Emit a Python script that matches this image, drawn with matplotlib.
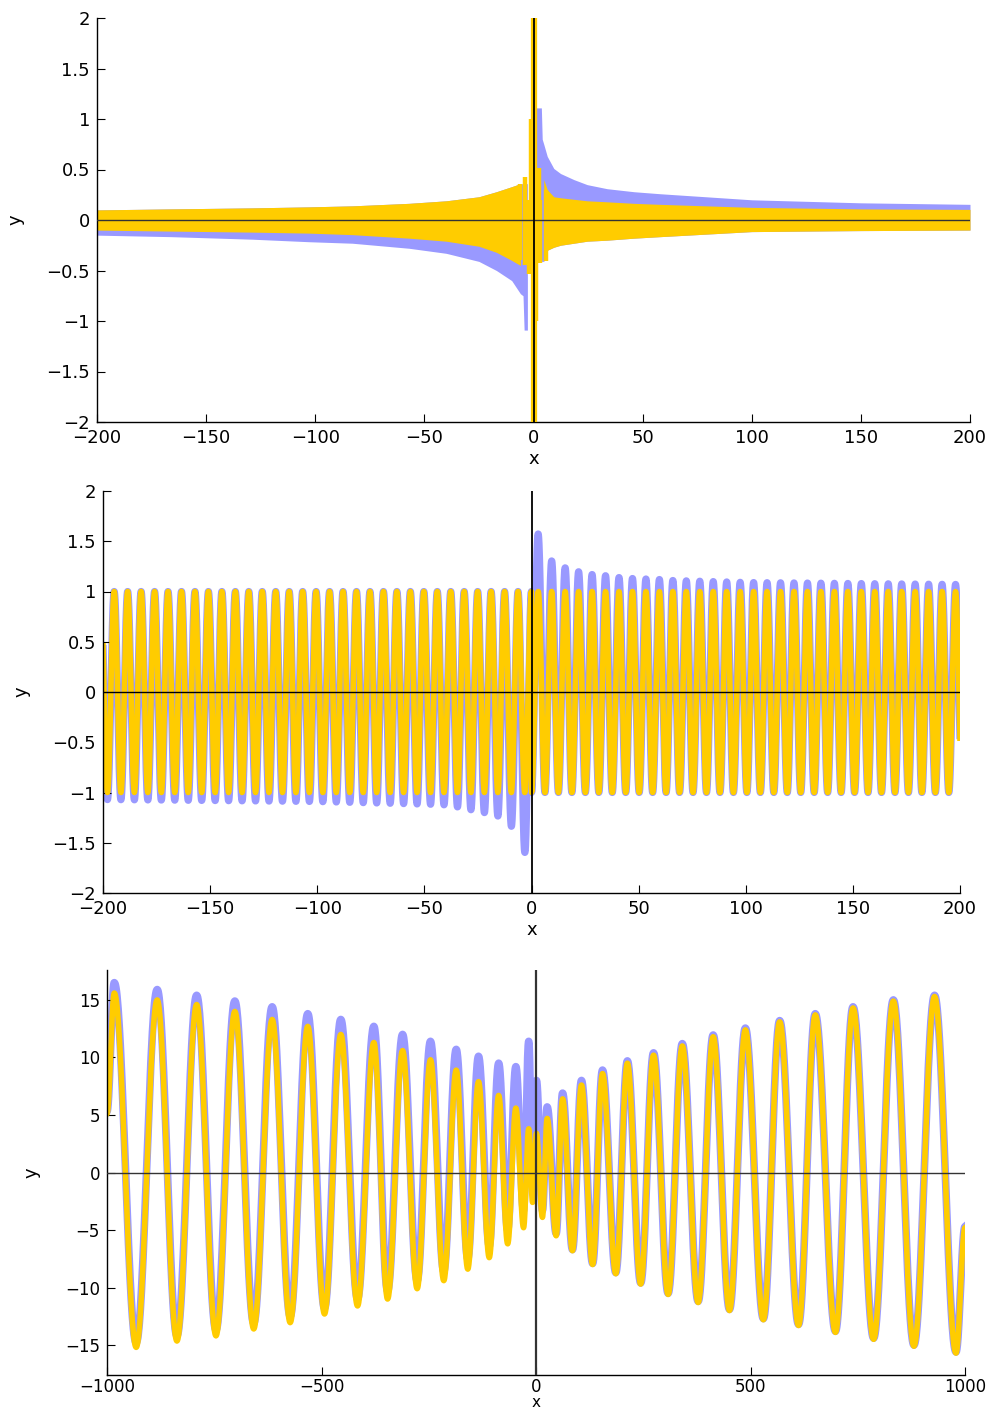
import numpy as np
import matplotlib
matplotlib.use("Agg")
import matplotlib.pyplot as plt

BLUE = "#9999ff"
YELLOW = "#ffcc00"
plt.rcParams["font.family"] = ["DejaVu Sans"]

# ---------------- Panel 1 : envelopes ----------------
p1_left_x = [-200, -166, -129, -103, -83, -57, -40, -25, -17, -10, -6]
p1_left_yel_up = [0.10, 0.11, 0.12, 0.13, 0.14, 0.165, 0.19, 0.23, 0.28, 0.33, 0.36]
p1_left_yel_lo = [-0.10, -0.11, -0.12, -0.13, -0.145, -0.18, -0.21, -0.26, -0.32, -0.40, -0.45]
p1_left_blue_x = [-200, -166, -129, -103, -83, -57, -40, -25, -17, -10, -6, -4.8, -4.3, -2.8]
p1_left_blue_lo = [-0.15, -0.165, -0.19, -0.215, -0.23, -0.28, -0.33, -0.41, -0.50, -0.60, -0.73, -0.75, -1.09, -1.09]

p1_right_x = [4.7, 6.3, 9.3, 12.4, 18.5, 24.6, 33.7, 46, 58, 100, 150, 200]
p1_right_yel_up = [0.40, 0.30, 0.23, 0.22, 0.205, 0.19, 0.18, 0.165, 0.155, 0.125, 0.11, 0.105]
p1_right_yel_lo = [-0.41, -0.30, -0.27, -0.25, -0.23, -0.21, -0.20, -0.18, -0.165, -0.115, -0.105, -0.10]
p1_right_blue_x = [0.8, 3.6, 4.0, 4.7, 6.3, 9.3, 12.4, 18.5, 24.6, 33.7, 46, 58, 100, 150, 200]
p1_right_blue_up = [1.11, 1.11, 0.80, 0.75, 0.63, 0.51, 0.46, 0.40, 0.35, 0.31, 0.28, 0.26, 0.20, 0.17, 0.155]

# spikes near the origin
p1_yspike_x = [-8.5, -6.0, -4.0, -2.2, -1.2, 1.0, 2.4, 3.2, 5.5]
p1_yspike_top = [0.33, 0.36, 0.43, 0.20, 1.00, 0.30, 0.51, 0.20, 0.30]
p1_yspike_bot = [-0.35, -0.40, -0.45, -0.53, -0.30, -1.00, -0.30, -0.43, -0.41]

# ---------------- Panel 2 ----------------
p2_xlim = (-200, 200)
p2_period = 2 * np.pi
p2_yel_amp = 1.0
p2_blue_pk_x = [0.0, 2.3, 8.9, 15, 21.3, 27.5, 33.7, 40, 46.5, 52.7, 59.4, 65.6, 100, 150, 200]
p2_blue_pk_y = [1.61, 1.61, 1.31, 1.24, 1.20, 1.17, 1.16, 1.14, 1.13, 1.125, 1.12, 1.11, 1.09, 1.08, 1.07]
p2_blue_tr_x = [-200, -150, -100, -41.7, -35.3, -28.6, -22, -16, -9.8, -2.8, 0.0]
p2_blue_tr_y = [-1.07, -1.08, -1.09, -1.12, -1.14, -1.17, -1.20, -1.23, -1.32, -1.61, -1.61]

# ---------------- Panel 3 : extremes ----------------
p3_x = [-1000, -983, -932, -883, -837, -791, -746, -702, -658, -615, -573, -532,
        -493, -455, -416, -378, -346, -311, -277, -246, -215, -186, -159, -134,
        -109, -87, -66, -47, -29, -17, -8, 1, 15, 26, 47, 62, 85, 106, 132, 155,
        186, 213, 244, 274, 308, 341, 378, 413, 451, 488, 530, 568, 612, 651, 698,
        739, 787, 833, 881, 929, 979, 1000]
p3_yellow = [5.1, 15.6, -15.2, 15.0, -14.65, 14.6, -14.2, 14.0, -13.6, 13.3, -13.05, 12.7,
             -12.3, 12.0, -11.6, 11.3, -11.0, 10.6, -10.1, 9.8, -9.4, 8.9, -8.4, 7.9,
             -7.4, 6.7, -6.2, 5.6, -4.8, 3.8, -2.6, 3.4, -3.9, 4.7, -5.5, 6.4, -6.8, 7.6, -8.0, 8.6,
             -8.8, 9.5, -9.7, 10.2, -10.6, 11.0, -11.3, 11.8, -12.0, 12.4, -12.8, 13.1, -13.3, 13.7, -13.9,
             14.3, -14.5, 14.9, -15.1, 15.3, -15.7, -4.8]
p3_blue = [5.3, 16.5, -14.8, 15.9, -14.2, 15.4, -13.7, 14.9, -13.1, 14.4, -12.5, 13.8,
           -11.8, 13.3, -11.0, 12.7, -10.3, 12.0, -9.4, 11.4, -8.6, 10.7, -7.5, 10.1,
           -6.4, 9.5, -5.0, 9.2, -3.3, 11.4, -1.0, 8.0, -3.3, 5.7, -5.3, 6.9, -6.7, 8.0, -7.9, 8.9,
           -8.7, 9.7, -9.6, 10.4, -10.5, 11.2, -11.2, 11.95, -11.9, 12.55, -12.7, 13.2, -13.2, 13.8, -13.8,
           14.4, -14.4, 15.0, -15.0, 15.4, -15.6, -4.7]


def through_extremes(xs, ys, n=40):
    """Draw a smooth half-wave between consecutive read extremes."""
    xo, yo = [], []
    for i in range(len(xs) - 1):
        t = np.linspace(0, 1, n, endpoint=False)
        s = (1 - np.cos(np.pi * t)) / 2
        xo.append(xs[i] + (xs[i + 1] - xs[i]) * t)
        yo.append(ys[i] + (ys[i + 1] - ys[i]) * s)
    xo.append([xs[-1]])
    yo.append([ys[-1]])
    return np.concatenate(xo), np.concatenate(yo)


def style(ax, xlim, ylim, xticks, yticks, xlab_y, ylab_x, xpad=5, xlab_size=13, tsize=13):
    ax.set_xlim(*xlim)
    ax.set_ylim(*ylim)
    ax.set_xticks(xticks)
    ax.set_yticks(yticks)
    ax.set_xticklabels([f"{v:g}".replace("-", "\u2212") for v in xticks])
    ax.set_yticklabels([f"{v:g}".replace("-", "\u2212") for v in yticks])
    for s in ["top", "right"]:
        ax.spines[s].set_visible(False)
    for s in ["left", "bottom"]:
        ax.spines[s].set_linewidth(1.0)
        ax.spines[s].set_color("black")
    ax.tick_params(direction="in", length=6, width=0.8, labelsize=tsize, pad=5)
    ax.tick_params(axis="x", pad=xpad)
    ax.set_xlabel("x", fontsize=xlab_size)
    ax.set_ylabel("y", fontsize=13)
    ax.xaxis.set_label_coords(0.5, xlab_y)
    ax.yaxis.set_label_coords(ylab_x, 0.5)
    ax.patch.set_alpha(0)


fig = plt.figure(figsize=(9.98, 14.12), dpi=100)

# ---------------- Panel 1 ----------------
ax1 = fig.add_axes([97 / 998, 1 - 422 / 1412, 873 / 998, 404 / 1412])
ax1.fill_between(p1_left_blue_x, p1_left_blue_lo,
                 np.interp(p1_left_blue_x, p1_left_x, p1_left_yel_up), color=BLUE, lw=0, zorder=1)
ax1.fill_between(p1_right_blue_x, np.interp(p1_right_blue_x, p1_right_x, p1_right_yel_lo),
                 p1_right_blue_up, color=BLUE, lw=0, zorder=1)
ax1.fill_between(p1_left_x, p1_left_yel_lo, p1_left_yel_up, color=YELLOW, lw=0, zorder=2)
ax1.fill_between(p1_right_x, p1_right_yel_lo, p1_right_yel_up, color=YELLOW, lw=0, zorder=2)
ax1.vlines(p1_yspike_x, p1_yspike_bot, p1_yspike_top, color=YELLOW, lw=3.2, zorder=3)
ax1.vlines([0], [-2], [2], color=YELLOW, lw=4.5, zorder=3)
ax1.axhline(0, color="#333333", lw=1.0, zorder=5)
ax1.axvline(0, color="black", lw=1.3, zorder=5)
style(ax1, (-200, 200), (-2, 2), [-200, -150, -100, -50, 0, 50, 100, 150, 200],
      [-2, -1.5, -1, -0.5, 0, 0.5, 1, 1.5, 2], -0.069, -0.083)

# ---------------- Panel 2 ----------------
ax2 = fig.add_axes([103 / 998, 1 - 893 / 1412, 857 / 998, 402 / 1412])
x2 = np.linspace(p2_xlim[0], p2_xlim[1], 20001)
yel2 = -np.sign(x2) * p2_yel_amp * np.cos(2 * np.pi * x2 / p2_period)
dpk = np.interp(x2, p2_blue_pk_x, p2_blue_pk_y) - 1
dtr = -1 - np.interp(x2, p2_blue_tr_x, p2_blue_tr_y)
blue2 = np.where(x2 >= 0, yel2 + dpk * (1 + yel2) / 2, yel2 - dtr * (1 - yel2) / 2)
ax2.plot(x2, blue2, color=BLUE, lw=5.2, zorder=1, solid_capstyle="butt")
ax2.plot(x2, yel2, color=YELLOW, lw=4.0, zorder=2, solid_capstyle="butt")
ax2.axhline(0, color="black", lw=1.0, zorder=5)
ax2.axvline(0, color="black", lw=1.3, zorder=5)
style(ax2, (-200, 200), (-2, 2), [-200, -150, -100, -50, 0, 50, 100, 150, 200],
      [-2, -1.5, -1, -0.5, 0, 0.5, 1, 1.5, 2], -0.07, -0.084)

# ---------------- Panel 3 ----------------
ax3 = fig.add_axes([107 / 998, 1 - 1375 / 1412, 858 / 998, 405 / 1412])
bx, by = through_extremes(p3_x, p3_blue)
yx, yy = through_extremes(p3_x, p3_yellow)
ax3.plot(bx, by, color=BLUE, lw=5.5, zorder=1)
ax3.plot(yx, yy, color=YELLOW, lw=4.0, zorder=2)
ax3.axhline(0, color="#333333", lw=1.0, zorder=5)
ax3.axvline(0, color="#333333", lw=1.6, zorder=5)
style(ax3, (-1000, 1000), (-17.6, 17.6), [-1000, -500, 0, 500, 1000],
      [-15, -10, -5, 0, 5, 10, 15], -0.0494, -0.077, xpad=2, xlab_size=11, tsize=12)

fig.savefig("out.png", dpi=100)
